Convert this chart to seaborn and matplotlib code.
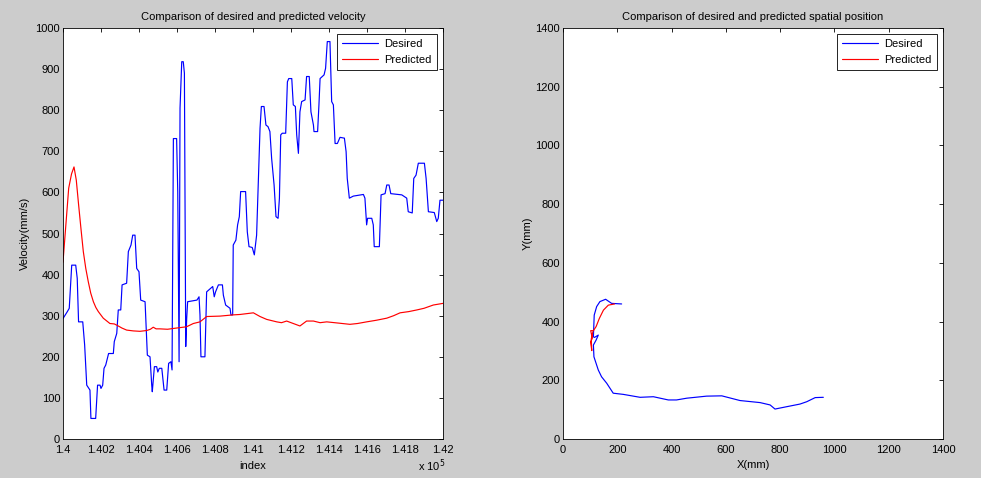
import matplotlib
matplotlib.use("Agg")
import matplotlib.pyplot as plt
import seaborn as sns
import numpy as np

# ---- velocity data (index in tens past 140000, velocity in mm/s) ----
vel_idx_desired = [0, 2.3, 3.3, 4.6, 6.7, 7.5, 8.2, 10.4, 11.4, 12.5, 14.2, 14.7, 17.2, 18.2, 19.5,
                   20, 20.9, 21.6, 22.5, 24, 26.5, 27, 28.3, 29.1, 30.4, 31.1, 33.5, 34.4, 35.8,
                   36.7, 37.9, 38.8, 40, 40.9, 43.2, 44.4, 45.8, 46.7, 47, 48.1, 49.3, 49.9, 50.7,
                   52, 53.2, 54.6, 55.6, 56.8, 57.4, 58.1, 59.8, 60.4, 61.1, 61.6, 62.5, 63.3,
                   63.9, 64.6, 65.1, 65.6, 70.5, 71.6, 72.1, 72.6, 74.7, 75.6, 78.8, 79.6, 80.3,
                   81.8, 83.9, 84.4, 85.6, 87.9, 88.4, 89.3, 89.6, 91.0, 91.9, 92.8, 93.5, 96.1,
                   97.0, 97.9, 99.6, 100.7, 101.9, 102.8, 103.7, 104.4, 105.8, 106.8, 107.9,
                   108.9, 109.8, 111.1, 112.1, 113.2, 113.9, 114.6, 115.4, 117.2, 118.1, 118.8,
                   120.4, 121.2, 122.3, 123.0, 123.9, 124.7, 125.6, 127.4, 128.2, 129.6, 130.5,
                   131.8, 132.1, 134.0, 134.7, 135.3, 137.4, 138.2, 139.1, 140.5, 141.4, 142.3,
                   143.2, 144.4, 145.8, 148.1, 149.0, 149.6, 150.7, 152.8, 158.1, 158.9, 159.8,
                   160.3, 162.5, 163.3, 163.8, 166.5, 167.4, 169.5, 170.4, 171.6, 172.5, 178.3,
                   180.9, 181.7, 183.8, 184.6, 185.8, 187.0, 190.2, 191.1, 192.3, 195.4, 196.7,
                   197.5, 198.4, 200]
vel_desired = [293, 310, 318, 423, 423, 391, 285, 285, 229, 131, 119, 50, 50, 131, 131,
               123, 131, 172, 180, 208, 208, 237, 257, 314, 314, 375, 379, 456, 472,
               496, 496, 415, 407, 338, 334, 204, 200, 131, 115, 176, 176, 163, 172,
               172, 119, 119, 184, 188, 168, 731, 731, 602, 188, 805, 918, 918,
               890, 225, 293, 334, 338, 346, 302, 200, 200, 358, 371, 346, 358,
               375, 375, 350, 326, 318, 302, 302, 472, 484, 521, 541, 602, 602,
               504, 468, 466, 448, 496, 626, 756, 809, 809, 764, 760,
               748, 683, 618, 541, 537, 586, 740, 744, 744, 869, 877,
               877, 813, 809, 740, 695, 796, 821, 825, 882, 882, 796,
               764, 748, 748, 813, 877, 886, 902, 967, 967, 821, 813,
               719, 719, 734, 732, 699, 634, 586, 591, 595, 586, 521,
               537, 537, 521, 468, 468, 594, 597, 618, 618, 597, 594,
               586, 553, 550, 634, 642, 671, 671, 634, 553, 551, 529,
               537, 581, 581]

vel_idx_pred = [0, 1, 2, 3, 4.5, 5.8, 7, 8.2, 9.5, 10.7, 12, 13.3, 14.6, 16, 17.3, 18.6, 21.2,
                24.7, 27, 29.1, 31, 33.5, 37, 40.5, 44.1, 46, 47.5, 49, 50.9, 55, 59.8, 65,
                68.6, 72.1, 75.6, 82.6, 89.6, 93.2, 100.2, 103.7, 107.2, 112.5, 115, 117.7,
                121.2, 124.7, 128.2, 131.8, 135.3, 138.8, 145, 151, 155, 159.8, 165, 170.4,
                174, 177.4, 182, 186.2, 190, 194.9, 200]
vel_pred = [430, 490, 550, 610, 645, 662, 630, 571, 510, 456, 415, 383, 355, 334, 320, 310, 294,
            281, 280, 275, 270, 265, 263, 262, 264, 267, 272, 268, 268, 267, 270, 273,
            281, 285, 298, 299, 302, 303, 307, 298, 291, 285, 283, 287,
            281, 275, 287, 287, 283, 285, 282, 279, 281, 285, 289, 294,
            300, 307, 310, 314, 318, 326, 330]

# ---- spatial trajectory (mm) ----
pos_x_desired = [216, 179, 157, 136, 124, 115, 112, 116, 130, 122, 112, 114, 130, 142, 161,
                 185, 222, 284, 333, 388, 418, 456, 529, 585, 652, 726, 763, 781, 824, 873,
                 898, 929, 959]
pos_y_desired = [460, 462, 476, 468, 451, 422, 348, 346, 354, 337, 320, 280, 235, 212, 190,
                 156, 152, 142, 144, 133, 133, 139, 146, 147, 131, 124, 116, 102, 110, 119,
                 127, 141, 142]
pos_x_pred = [190, 167, 149, 134, 122, 112, 102, 108, 102, 106, 104, 110]
pos_y_pred = [460, 456, 439, 411, 383, 369, 369, 343, 331, 301, 340, 365]

INDEX_BASE = 140000
INDEX_STEP = 10

sns.set_style("white")
plt.rcParams.update({
    "font.family": ["Liberation Sans", "DejaVu Sans"],
    "font.size": 8,
    "figure.facecolor": "#cccccc",
    "axes.facecolor": "white",
    "axes.edgecolor": "black",
    "axes.linewidth": 0.6,
    "xtick.direction": "in",
    "ytick.direction": "in",
    "xtick.top": True,
    "ytick.right": True,
    "xtick.major.size": 3,
    "ytick.major.size": 3,
    "xtick.major.width": 0.6,
    "ytick.major.width": 0.6,
    "xtick.color": "black",
    "ytick.color": "black",
    "text.color": "black",
    "axes.labelcolor": "black",
})

fig = plt.figure(figsize=(9.81, 4.78), dpi=100)
ax1 = fig.add_axes([0.0642, 0.0816, 0.3874, 0.8598])
ax2 = fig.add_axes([0.5739, 0.0816, 0.3874, 0.8598])

LW = 0.85

# left panel: velocity against sample index
sns.lineplot(x=[INDEX_BASE + INDEX_STEP * v for v in vel_idx_desired], y=vel_desired, ax=ax1,
             color="blue", linewidth=LW, label="Desired", sort=False, estimator=None)
sns.lineplot(x=[INDEX_BASE + INDEX_STEP * v for v in vel_idx_pred], y=vel_pred, ax=ax1,
             color="red", linewidth=LW, label="Predicted", sort=False, estimator=None)
ax1.set_xlim(140000, 142000)
ax1.set_ylim(0, 1000)
xt = np.arange(140000, 142001, 200)
ax1.set_xticks(xt)
ax1.set_xticklabels(["%g" % (t / 1e5) for t in xt])
ax1.set_yticks(np.arange(0, 1001, 100))
ax1.set_xlabel("index", labelpad=5)
ax1.set_ylabel("Velocity(mm/s)", labelpad=4)
ax1.set_title("Comparison of desired and predicted velocity", fontsize=8, pad=6)
fig.text(0.426, 0.016, r"x 10$^5$", fontsize=8)

# right panel: spatial position
sns.lineplot(x=pos_x_desired, y=pos_y_desired, ax=ax2, color="blue", linewidth=LW,
             label="Desired", sort=False, estimator=None)
sns.lineplot(x=pos_x_pred, y=pos_y_pred, ax=ax2, color="red", linewidth=LW,
             label="Predicted", sort=False, estimator=None)
ax2.set_xlim(0, 1400)
ax2.set_ylim(0, 1400)
ax2.set_xticks(np.arange(0, 1401, 200))
ax2.set_yticks(np.arange(0, 1401, 200))
ax2.set_xlabel("X(mm)", labelpad=4)
ax2.set_ylabel("Y(mm)", labelpad=2)
ax2.set_title("Comparison of desired and predicted spatial position", fontsize=8, pad=6)

for ax in (ax1, ax2):
    ax.tick_params(axis="y", labelsize=8, pad=2)
    ax.tick_params(axis="x", labelsize=8, pad=4)
    for s in ax.spines.values():
        s.set_visible(True)
    leg = ax.legend(loc="upper right", fontsize=8, frameon=True, fancybox=False,
                    edgecolor="black", framealpha=1, handlelength=3.2,
                    borderaxespad=0.5, borderpad=0.5, labelspacing=0.5, handletextpad=0.6)
    leg.get_frame().set_linewidth(0.6)

fig.savefig("out.png", dpi=100, facecolor=fig.get_facecolor())
